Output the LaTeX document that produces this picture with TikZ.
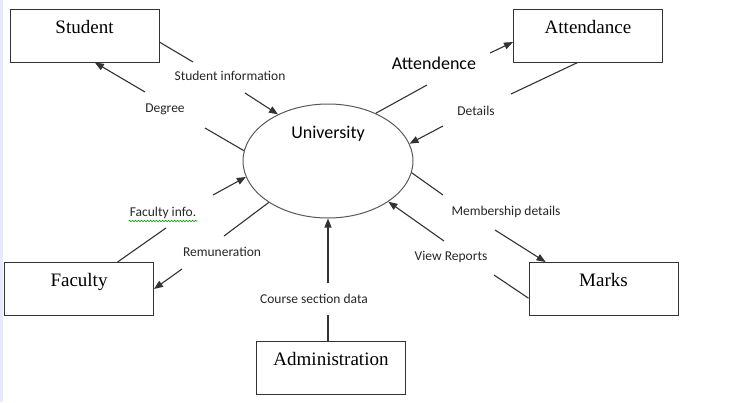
\documentclass[tikz,border=0pt]{standalone}
\usepackage{fontspec}
\setmainfont{Liberation Serif}
\newfontfamily\labelfont{Carlito}
\usepackage{tikz}
\usetikzlibrary{arrows.meta,shapes.geometric,decorations.pathmorphing}

\begin{document}
\begin{tikzpicture}[
  x=1pt, y=-1pt,
  entity/.style={draw=black!80, line width=1pt, minimum width=149pt,
    inner xsep=0pt, inner ysep=0pt, text height=24pt, text depth=29pt,
    font=\fontsize{19}{22}\selectfont},
  process/.style={ellipse, draw=black!65, line width=1pt,
    minimum width=170pt, minimum height=114pt, inner sep=0pt},
  flowtext/.style={font=\labelfont\fontsize{13.5}{15}\selectfont, text=black!85, inner sep=1pt},
  bigtext/.style={font=\labelfont\fontsize{18}{20}\selectfont, inner sep=1pt},
  line/.style={draw=black!80, line width=1.1pt},
  flow/.style={line, -{Triangle[length=9pt,width=7pt]}}
]
\useasboundingbox (0,0) rectangle (734,402);
\fill[blue!9] (0,0) rectangle (3,402);

% external entities
\node[entity] (student) at (84.5,35.5) {Student};
\node[entity] (attendance) at (588,35.5) {Attendance};
\node[entity] (faculty) at (79,289) {Faculty};
\node[entity] (admin) at (331,368) {Administration};
\node[entity] (marks) at (603.5,289) {Marks};

% the process
\node[process] (univ) at (328,161) {};
\node[bigtext] (univ-text) at (328,134) {University};

% flow labels
\node[flowtext] (stud-info) at (230,76) {Student information};
\node[flowtext] (degree) at (165,109) {Degree};
\node[flowtext] (fac-info) at (163,213) {Faculty info.};
\node[flowtext] (remun) at (222,252) {Remuneration};
\node[flowtext] (course) at (314,299) {Course section data};
\node[bigtext] (attend) at (434,63) {Attendence};
\node[flowtext] (details) at (476,111) {Details};
\node[flowtext] (member) at (506,212) {Membership details};
\node[flowtext] (reports) at (451,257) {View Reports};
\draw[decorate, decoration={snake, amplitude=0.7pt, segment length=3pt},
  green!60!black, line width=0.6pt]
  ([yshift=-1pt]fac-info.south west) -- ([yshift=-1pt]fac-info.south east);

% gap ends of the flows
\coordinate (si-a) at (193,62);  \coordinate (si-b) at (245,93);
\coordinate (dg-a) at (205,128); \coordinate (dg-b) at (145,92);
\coordinate (fi-a) at (166,228); \coordinate (fi-b) at (213,195);
\coordinate (rm-a) at (224,236); \coordinate (rm-b) at (182,269);
\coordinate (cs-a) at (328,315); \coordinate (cs-b) at (328,283);
\coordinate (at-a) at (427,85);  \coordinate (at-b) at (490,53);
\coordinate (dt-a) at (511,94);  \coordinate (dt-b) at (443,126);
\coordinate (mb-a) at (443,195); \coordinate (mb-b) at (495,230);
\coordinate (vr-a) at (494,275); \coordinate (vr-b) at (444,241);

% flows
\draw[line] (student.-5) -- (si-a);
\draw[flow] (si-b) -- (univ.137);
\draw[line] (univ.173) -- (dg-a);
\draw[flow] (dg-b) -- (student.-69);
\draw[line] (faculty.35) -- (fi-a);
\draw[flow] (fi-b) -- (univ.-169);
\draw[line] (univ.-145) -- (rm-a);
\draw[flow] (rm-b) -- (faculty.east);
\draw[line] (univ.south |- admin.north) -- (cs-a);
\draw[flow] (cs-b) -- (univ.south);
\draw[line] (univ.45) -- (at-a);
\draw[flow] (at-b) -- (attendance.-175);
\draw[line] (attendance.-111) -- (dt-a);
\draw[flow] (dt-b) -- (univ.12);
\draw[line] (univ.-8) -- (mb-a);
\draw[flow] (mb-b) -- (marks.155);
\draw[line] (marks.-173) -- (vr-a);
\draw[flow] (vr-b) -- (univ.-34);
\end{tikzpicture}
\end{document}
